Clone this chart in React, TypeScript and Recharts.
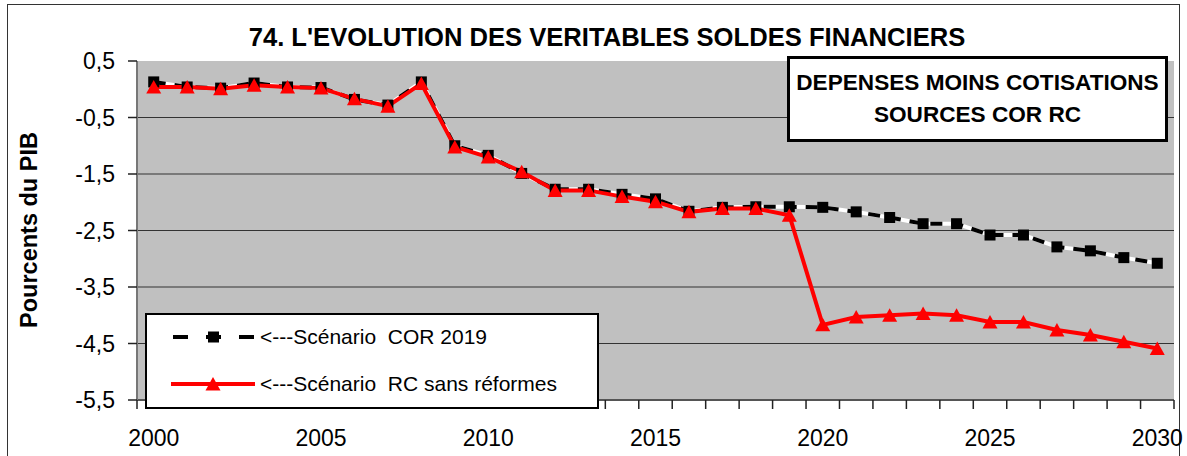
import React from 'react';
import { LineChart, Line, XAxis, YAxis, CartesianGrid, ReferenceLine } from 'recharts';

const years = [2000, 2001, 2002, 2003, 2004, 2005, 2006, 2007, 2008, 2009, 2010, 2011, 2012, 2013, 2014, 2015, 2016, 2017, 2018, 2019, 2020, 2021, 2022, 2023, 2024, 2025, 2026, 2027, 2028, 2029, 2030];
const corValues = [0.13, 0.04, 0.02, 0.11, 0.04, 0.03, -0.18, -0.28, 0.13, -1.0, -1.17, -1.49, -1.77, -1.77, -1.86, -1.94, -2.16, -2.09, -2.08, -2.08, -2.09, -2.17, -2.27, -2.38, -2.38, -2.58, -2.58, -2.79, -2.86, -2.98, -3.08];
const rcValues = [0.04, 0.04, 0.01, 0.07, 0.04, 0.02, -0.17, -0.3, 0.1, -1.02, -1.2, -1.46, -1.79, -1.79, -1.9, -1.99, -2.17, -2.11, -2.11, -2.23, -4.17, -4.03, -4.0, -3.97, -4.0, -4.12, -4.12, -4.26, -4.35, -4.47, -4.59];
const xLabelYears = [2000, 2005, 2010, 2015, 2020, 2025, 2030];
const yTicks = [0.5, -0.5, -1.5, -2.5, -3.5, -4.5, -5.5];
const gridValues = [-0.5, -1.5, -2.5, -3.5, -4.5];
const seriesNames = ['<---Scénario  COR 2019', '<---Scénario  RC sans réformes'];
const title = "74. L'EVOLUTION DES VERITABLES SOLDES FINANCIERS";
const boxLines = ['DEPENSES MOINS COTISATIONS', 'SOURCES COR RC'];
const yTitle = 'Pourcents du PIB';

const data = years.map((year, i) => ({ year, cor: corValues[i], rc: rcValues[i] }));
const boundaries = [...years.map((y) => y - 0.5), years[years.length - 1] + 0.5];
const xTicks = [...boundaries, ...xLabelYears].sort((a, b) => a - b);

const FONT = 'Arial, "Liberation Sans", sans-serif';

const XTick = (props: any) => {
  const { x, y, payload } = props;
  const v = payload.value;
  if (Number.isInteger(v)) {
    return (
      <text x={x} y={y + 38} textAnchor="middle" dominantBaseline="central" fontSize={23} fontFamily={FONT} fill="#000">
        {v}
      </text>
    );
  }
  return <line x1={x} y1={y} x2={x} y2={y + 9} stroke="#222" strokeWidth={1.5} />;
};

const SquareDot = (props: any) => {
  const { cx, cy, index } = props;
  if (cx == null || cy == null) return null;
  return <rect key={`sq-${index}`} x={cx - 5.5} y={cy - 5.5} width={11} height={11} fill="#000" />;
};

const TriangleDot = (props: any) => {
  const { cx, cy, index } = props;
  if (cx == null || cy == null) return null;
  const pts = `${cx},${cy - 7} ${cx - 7.5},${cy + 6.5} ${cx + 7.5},${cy + 6.5}`;
  return <polygon key={`tr-${index}`} points={pts} fill="#FF0000" />;
};

export default function App() {
  return (
    <div style={{ position: 'absolute', left: 0, top: 0, width: 1187, height: 456, overflow: 'hidden', background: '#fff', fontFamily: FONT }}>
      <div style={{ position: 'absolute', left: 7, top: 4, width: 1171, height: 500, border: '1.5px solid #333' }} />
      <div style={{ position: 'absolute', left: 0, top: 0 }}>
        <LineChart width={1187} height={456} data={data} margin={{ top: 61, right: 13, bottom: 0, left: 0 }}>
          <CartesianGrid horizontal={false} vertical={false} fill="#C0C0C0" />
          {gridValues.map((g) => (
            <ReferenceLine key={g} y={g} stroke="#333" strokeWidth={1.2} ifOverflow="hidden" />
          ))}
          <XAxis
            dataKey="year"
            type="number"
            domain={[boundaries[0], boundaries[boundaries.length - 1]]}
            ticks={xTicks}
            interval={0}
            tick={<XTick />}
            tickLine={false}
            tickSize={0}
            tickMargin={0}
            axisLine={{ stroke: '#555', strokeWidth: 2 }}
            height={56}
            allowDecimals
          />
          <YAxis
            type="number"
            domain={[-5.5, 0.5]}
            ticks={yTicks}
            interval={0}
            width={137}
            tickSize={9}
            tickMargin={13}
            tickFormatter={(v: number) => v.toFixed(1).replace('.', ',')}
            tick={{ fontSize: 23, fill: '#000', fontFamily: FONT }}
            tickLine={{ stroke: '#222', strokeWidth: 1.5 }}
            axisLine={{ stroke: '#777', strokeWidth: 2 }}
          />
          <Line dataKey="cor" stroke="#FFFFFF" strokeWidth={4} dot={false} isAnimationActive={false} legendType="none" />
          <Line dataKey="cor" name={seriesNames[0]} stroke="#000" strokeWidth={4} strokeDasharray="12 9" dot={<SquareDot />} isAnimationActive={false} />
          <Line dataKey="rc" name={seriesNames[1]} stroke="#FF0000" strokeWidth={4} dot={<TriangleDot />} isAnimationActive={false} />
        </LineChart>
      </div>
      <div style={{ position: 'absolute', left: 207, top: 22, width: 800, textAlign: 'center', fontWeight: 'bold', fontSize: 25.6, lineHeight: '30px', color: '#000' }}>
        {title}
      </div>
      <div style={{ position: 'absolute', left: 787, top: 56, width: 381, height: 86, boxSizing: 'border-box', border: '3px solid #000', background: '#fff', textAlign: 'center', fontWeight: 'bold', fontSize: 22.6, lineHeight: '32px', paddingTop: 8 }}>
        {boxLines.map((l) => (
          <div key={l}>{l}</div>
        ))}
      </div>
      <div style={{ position: 'absolute', left: 29 - 150, top: 230 - 15, width: 300, height: 30, lineHeight: '30px', textAlign: 'center', fontWeight: 'bold', fontSize: 23.5, transform: 'rotate(-90deg)' }}>
        {yTitle}
      </div>
      <div style={{ position: 'absolute', left: 145, top: 313, width: 454, height: 96, boxSizing: 'border-box', border: '2px solid #000', background: '#fff' }}>
        <svg width={450} height={92} style={{ position: 'absolute', left: 0, top: 0 }}>
          <line x1={26} y1={22} x2={108} y2={22} stroke="#000" strokeWidth={4} strokeDasharray="15 18" />
          <rect x={61} y={16.5} width={11} height={11} fill="#000" />
          <line x1={24} y1={69} x2={108} y2={69} stroke="#FF0000" strokeWidth={4} />
          <polygon points="66,62 58.5,75.5 73.5,75.5" fill="#FF0000" />
        </svg>
        <div style={{ position: 'absolute', left: 113, top: 8, fontSize: 21, lineHeight: '28px', whiteSpace: 'pre' }}>{seriesNames[0]}</div>
        <div style={{ position: 'absolute', left: 113, top: 55, fontSize: 21, lineHeight: '28px', whiteSpace: 'pre' }}>{seriesNames[1]}</div>
      </div>
    </div>
  );
}
